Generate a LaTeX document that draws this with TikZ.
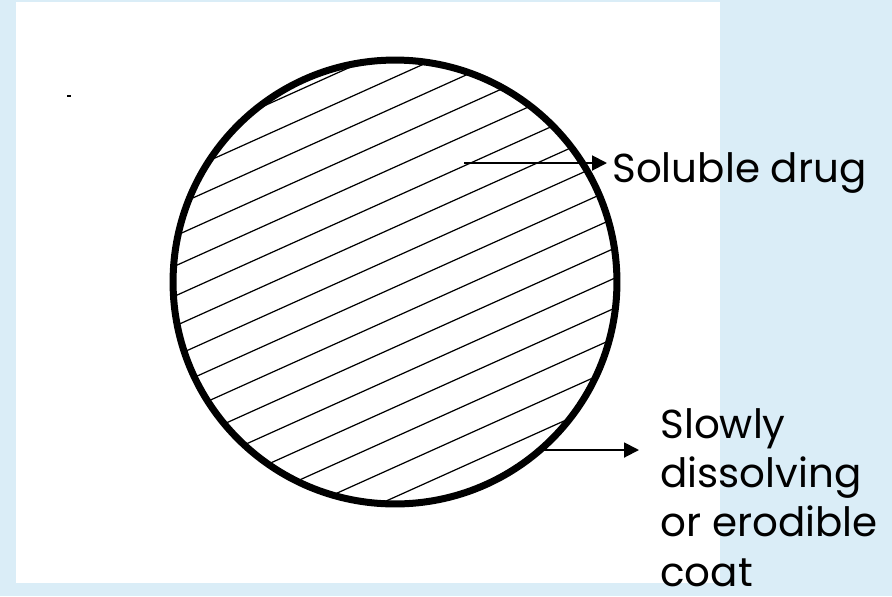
\documentclass[tikz,border=0pt]{standalone}
\usepackage{fontspec}
\setmainfont{Poppins}
\usepackage{tikz}
\usetikzlibrary{arrows.meta, positioning}
\definecolor{slidebg}{RGB}{218,237,247}

\begin{document}
\begin{tikzpicture}[x=0.02cm, y=-0.02cm,
    every node/.style={font=\fontsize{23}{28}\selectfont, inner sep=0pt},
    rim/.style={line width=0.14cm},
    hatch/.style={line width=0.7pt},
    pointer/.style={line width=1.1pt, -{Triangle[length=0.3cm, width=0.3cm]}},
    notetext/.style={anchor=base west, align=left},
]
  % slide background and white panel
  \fill[slidebg] (0,0) rectangle (892,596);
  \fill[white] (16,2) rectangle (720,583);
  \useasboundingbox (0,0) rectangle (892,596);
  \fill (67,95) rectangle (71,97);

  % hatched tablet core with thick coat
  \coordinate (centre) at (395,282);
  \begin{scope}
    \clip (centre) circle [radius=4.44cm];
    \foreach \d in {-265,-235,...,275}
      \draw[hatch] (95,{282+\d+135}) -- (695,{282+\d-135});
  \end{scope}
  \draw[rim] (centre) circle [radius=4.44cm];

  \node[notetext] (drug) at (612,182) {Soluble drug};
  \node[notetext] (coat) at (660,586) {Slowly\\dissolving\\or erodible\\coat};

  \coordinate (drugtail) at (464,163);
  \coordinate (coattail) at (543,450);
  \draw[pointer, shorten >=0.1cm] (drugtail) -- (drugtail -| drug.west);
  \draw[pointer, shorten >=0.42cm] (coattail) -- (coattail -| coat.west);
\end{tikzpicture}
\end{document}
